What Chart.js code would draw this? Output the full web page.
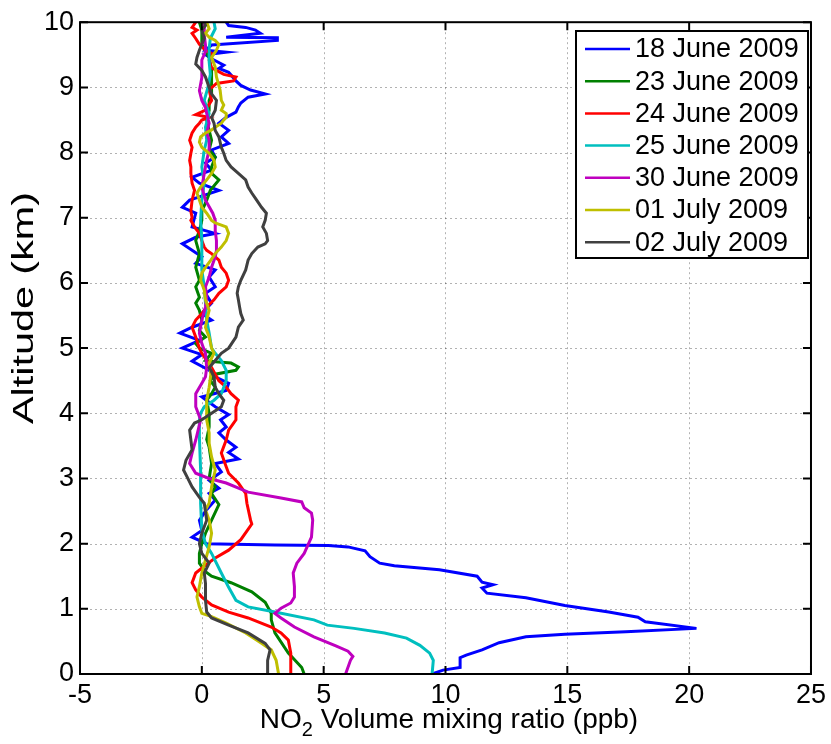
<!DOCTYPE html>
<html>
<head>
<meta charset="utf-8">
<script src="https://cdn.jsdelivr.net/npm/chart.js@4.4.1/dist/chart.umd.min.js"></script>
<style>
  html, body { margin: 0; padding: 0; background: #ffffff; }
  #wrap { width: 831px; height: 744px; }
</style>
</head>
<body>
<div id="wrap"><canvas id="c" width="831" height="744"></canvas></div>
<script>
// NO2 vertical profiles: each point is [mixing ratio (ppb), altitude (km)]
const seriesLabels = ['18 June 2009', '23 June 2009', '24 June 2009', '25 June 2009',
                      '30 June 2009', '01 July 2009', '02 July 2009'];
const seriesColors = ['#0000ff', '#008000', '#ff0000', '#00bfbf', '#bf00bf', '#bfbf00', '#404040'];

const jun18 = [[9.45,0],[9.9,0.06],[10.6,0.1],[10.6,0.25],[10.85,0.29],[11.5,0.37],[12.2,0.48],[13.3,0.57],
  [14.9,0.61],[17.4,0.65],[20.3,0.7],[18.2,0.8],[17.9,0.87],[16.7,0.95],[14.9,1.05],[13.3,1.17],[11.7,1.24],
  [11.5,1.32],[11.95,1.37],[11.5,1.41],[11.3,1.5],[9.75,1.6],[7.9,1.66],[7.3,1.7],[6.9,1.8],[6.7,1.89],
  [6.0,1.95],[5.2,1.97],[3.0,1.98],[0.2,2.0],[-0.4,2.1],[0,2.2],[-0.1,2.36],[0.15,2.5],[0.55,2.67],[0.3,2.77],
  [0.7,2.85],[0.3,2.97],[0.8,3.1],[0.55,3.23],[1.5,3.3],[1.1,3.4],[1.4,3.48],[1.0,3.59],[0.7,3.7],[1.0,3.79],
  [0.77,3.9],[1.1,3.98],[0.55,4.1],[0,4.25],[1.0,4.35],[1.1,4.46],[0.55,4.56],[0.3,4.66],[-0.4,4.8],[0,4.9],
  [-0.8,5.0],[-0.1,5.12],[-0.9,5.23],[-0.4,5.32],[0.4,5.43],[0,5.53],[0.4,5.69],[0.15,5.84],[0.55,5.94],
  [0.3,6.09],[0.55,6.2],[-0.25,6.3],[0,6.4],[-0.4,6.5],[-0.8,6.6],[-0.25,6.7],[0.55,6.76],[-0.4,6.86],
  [-0.25,7.07],[-0.8,7.16],[-0.5,7.27],[-0.1,7.32],[0.7,7.42],[-0.1,7.53],[-0.4,7.62],[0.4,7.73],[0.15,7.84],
  [0.55,7.93],[0.4,8.04],[1.1,8.14],[0.8,8.24],[1.1,8.34],[0.7,8.45],[1.0,8.54],[1.4,8.62],[1.5,8.7],
  [1.6,8.76],[1.9,8.85],[2.6,8.9],[2.0,8.96],[1.6,9.03],[1.4,9.1],[1.2,9.19],[1.1,9.23],[0.7,9.29],[0.9,9.34],
  [0.5,9.42],[0.15,9.5],[1.0,9.54],[0.15,9.57],[0.4,9.65],[3.1,9.72],[3.1,9.76],[1.0,9.77],[2.4,9.83],
  [2.2,9.88],[1.8,9.92],[1.1,9.95],[1.0,10.0]];

const jun23 = [[4.2,0],[4.1,0.1],[3.55,0.32],[3.0,0.63],[2.85,0.83],[2.85,0.93],[2.6,1.1],[2.05,1.26],[1.2,1.4],
  [0.4,1.5],[0.15,1.57],[-0.1,1.7],[-0.1,1.85],[0,2.0],[0.15,2.16],[0.4,2.36],[0.7,2.6],[0.4,2.77],[0.55,2.87],
  [0.3,3.0],[0.4,3.23],[0.3,3.48],[0.2,3.6],[0.3,3.79],[0.3,4.0],[0.2,4.2],[0.4,4.3],[0.55,4.4],[0.35,4.5],
  [0.55,4.6],[1.4,4.66],[1.5,4.71],[1.2,4.77],[0.55,4.79],[0.15,4.81],[0.4,4.92],[-0.1,5.0],[-0.25,5.07],
  [0.15,5.17],[-0.1,5.27],[0,5.43],[-0.1,5.58],[-0.25,5.69],[-0.1,5.78],[-0.25,5.94],[-0.1,6.04],[-0.25,6.24],
  [-0.1,6.45],[-0.25,6.65],[-0.1,6.8],[0,6.96],[0,7.1],[0.2,7.27],[0.35,7.42],[0.7,7.58],[0.4,7.68],[0.4,7.78],
  [0.55,7.93],[0.3,8.04],[0.4,8.19],[0.3,8.34],[0.2,8.5],[0.3,8.65],[0.3,8.8],[0.4,8.9],[0.4,9.26],[0.3,9.46],
  [0,9.66],[0,9.88],[-0.1,10.0]];

const jun24 = [[3.65,0],[3.65,0.32],[3.55,0.52],[3.25,0.63],[2.85,0.72],[1.9,0.86],[1.1,0.95],[0.4,1.06],[0,1.18],
  [-0.25,1.29],[-0.4,1.4],[-0.25,1.55],[0.15,1.67],[0.55,1.78],[1.1,1.9],[1.6,2.06],[2.05,2.3],[2.0,2.36],
  [1.85,2.62],[1.8,2.77],[1.5,2.93],[1.1,3.08],[1.0,3.18],[0.8,3.39],[1.0,3.59],[1.1,3.74],[1.4,3.9],[1.4,4.1],
  [1.5,4.2],[1.2,4.3],[1.0,4.4],[0.7,4.5],[0.55,4.6],[0.4,4.7],[0.2,4.81],[0,4.92],[-0.1,5.0],[-0.25,5.17],
  [-0.4,5.32],[-0.25,5.43],[0,5.53],[0.2,5.63],[0.5,5.74],[0.7,5.84],[1.0,5.94],[1.1,6.04],[1.0,6.15],[0.8,6.24],
  [0.7,6.35],[0.4,6.45],[0.2,6.5],[0.1,6.55],[0,6.65],[-0.1,6.76],[-0.3,6.86],[-0.45,6.96],[-0.4,7.0],
  [-0.45,7.1],[-0.4,7.27],[-0.3,7.42],[-0.4,7.53],[-0.45,7.68],[-0.45,7.78],[-0.5,7.88],[-0.45,7.99],
  [-0.4,8.08],[-0.5,8.19],[-0.4,8.3],[-0.25,8.39],[-0.1,8.45],[0,8.5],[0.3,8.54],[-0.25,8.58],[0.15,8.65],
  [0.4,8.8],[0.3,8.96],[0.6,9.06],[1.3,9.1],[1.4,9.16],[0.9,9.2],[0.6,9.26],[0.4,9.3],[0.3,9.42],[0.4,9.52],
  [0.15,9.57],[-0.1,9.66],[-0.25,9.75],[-0.4,9.83],[-0.2,9.88],[-0.4,9.92],[-0.25,10.0]];

const jun25 = [[9.45,0],[9.5,0.21],[9.35,0.32],[8.95,0.44],[8.4,0.55],[7.5,0.63],[6.25,0.7],[5.15,0.75],
  [4.6,0.83],[3.0,0.95],[1.9,1.03],[1.4,1.13],[1.1,1.33],[0.8,1.55],[0.4,1.85],[0.15,2.0],[0,2.2],
  [-0.05,2.62],[-0.05,3.13],[-0.1,3.63],[-0.1,3.9],[-0.05,4.0],[0.1,4.1],[0.5,4.2],[0.8,4.3],[0.9,4.4],
  [1.0,4.5],[1.0,4.66],[0.8,4.81],[0.55,4.92],[0.4,5.0],[0.3,5.23],[0.2,5.43],[0.15,5.69],[0.1,5.94],[0,6.2],
  [0,6.45],[0,6.65],[-0.05,6.96],[0,7.27],[0.1,7.53],[0,7.78],[0.1,8.04],[0.2,8.19],[0.15,8.39],[0.3,8.6],
  [0.1,8.8],[0.25,9.0],[0.35,9.2],[0.3,9.4],[0.3,9.6],[0.35,9.75],[0.55,9.9],[0.5,10.0]];

const jun30 = [[5.9,0],[6.1,0.21],[6.2,0.27],[6.0,0.35],[5.5,0.43],[4.6,0.57],[3.8,0.72],[3.25,0.86],[3.0,0.93],
  [3.25,1.01],[3.65,1.09],[3.8,1.18],[3.8,1.34],[3.75,1.55],[3.9,1.7],[4.2,1.85],[4.5,2.1],[4.55,2.36],
  [4.5,2.47],[4.2,2.55],[4.1,2.64],[3.25,2.7],[1.9,2.79],[1.0,2.93],[0.3,3.0],[-0.25,3.08],[-0.5,3.23],
  [-0.4,3.39],[-0.25,3.59],[-0.05,3.9],[-0.25,4.1],[-0.25,4.3],[0,4.46],[0.15,4.56],[0.2,4.7],[0.15,4.92],
  [0,5.07],[-0.1,5.23],[0,5.43],[0.15,5.63],[0.2,5.78],[0.15,5.94],[0.3,6.09],[0.4,6.24],[0.55,6.4],[0.6,6.5],
  [0.6,6.65],[0.55,6.8],[0.55,6.96],[0.45,7.07],[0.15,7.27],[0,7.47],[0.1,7.68],[0.15,7.78],[0.2,7.88],
  [0.3,8.04],[0.3,8.19],[0.2,8.3],[0.3,8.45],[0.2,8.6],[0.15,8.69],[0,8.8],[-0.1,8.95],[0,9.15],[0,9.42],
  [0.15,9.55],[0.15,9.65],[0.1,9.8],[0.1,10.0]];

const jul01 = [[3.15,0],[3.05,0.21],[2.85,0.37],[2.45,0.47],[1.8,0.63],[1.0,0.78],[0.4,0.88],[0,0.93],[-0.1,1.03],
  [-0.2,1.18],[-0.1,1.34],[0,1.55],[0.15,1.75],[0.3,1.95],[0.4,2.16],[0.3,2.36],[0.15,2.52],[0.3,2.62],
  [0.4,2.87],[0.55,3.13],[0.4,3.33],[0.3,3.54],[0.3,3.7],[0.2,3.9],[0.2,4.0],[0.2,4.2],[0.3,4.4],[0.37,4.6],
  [0.3,4.77],[0.5,4.92],[0.4,5.0],[0.3,5.17],[0.15,5.32],[0.2,5.43],[0.3,5.58],[0.15,5.74],[0.1,5.89],
  [-0.05,6.04],[0,6.15],[0.15,6.24],[0.37,6.35],[0.55,6.45],[0.8,6.55],[1.0,6.65],[1.1,6.76],[1.0,6.86],
  [0.55,6.92],[0.4,6.96],[0.2,7.07],[0,7.16],[-0.1,7.27],[-0.2,7.38],[-0.05,7.47],[0.2,7.58],[0.4,7.68],
  [0.55,7.78],[0.5,7.88],[0.3,7.99],[0,8.08],[-0.1,8.16],[-0.05,8.24],[0.15,8.3],[0.37,8.34],[0.55,8.39],
  [0.8,8.45],[0.9,8.5],[1.0,8.54],[1.0,8.6],[0.8,8.65],[0.9,8.73],[0.8,8.8],[0.75,8.96],[0.6,9.16],[0.55,9.31],
  [0.4,9.46],[0.6,9.57],[0.7,9.66],[0.55,9.72],[0.3,9.77],[0.15,9.83],[0.3,9.9],[0.2,10.0]];

const jul02 = [[2.7,0],[2.7,0.21],[2.8,0.37],[2.6,0.47],[1.9,0.63],[1.1,0.75],[0.4,0.86],[0.2,0.95],[0.15,1.13],
  [0.15,1.39],[0.1,1.55],[0.3,1.7],[0,1.85],[-0.1,2.0],[0,2.16],[0.2,2.36],[0.1,2.62],[-0.1,2.71],[-0.4,2.87],
  [-0.6,3.02],[-0.75,3.13],[-0.65,3.28],[-0.4,3.44],[-0.45,3.59],[-0.5,3.74],[-0.3,3.85],[0,3.9],[0.4,4.0],
  [0.8,4.1],[0.9,4.2],[0.7,4.3],[0.55,4.4],[0.5,4.56],[0.37,4.66],[0.3,4.7],[0.55,4.81],[0.8,4.92],[1.1,5.0],
  [1.4,5.17],[1.5,5.32],[1.7,5.43],[1.6,5.53],[1.55,5.63],[1.5,5.74],[1.45,5.84],[1.5,5.94],[1.6,6.04],
  [1.8,6.2],[1.9,6.35],[2.05,6.45],[2.3,6.55],[2.6,6.6],[2.7,6.65],[2.65,6.76],[2.5,6.86],[2.6,6.96],
  [2.65,7.07],[2.45,7.16],[2.25,7.27],[2.05,7.38],[1.9,7.47],[1.8,7.58],[1.5,7.68],[1.2,7.78],[1.0,7.88],
  [0.9,7.99],[0.8,8.08],[0.7,8.24],[0.55,8.34],[0.5,8.45],[0.4,8.54],[0.55,8.65],[0.6,8.8],[0.4,8.9],
  [0.3,9.0],[0.15,9.16],[0,9.26],[-0.25,9.36],[-0.2,9.46],[-0.1,9.57],[0,9.66],[0.1,9.75],[0,9.88],
  [0.15,9.95],[0.1,10.0]];

const profiles = [jun18, jun23, jun24, jun25, jun30, jul01, jul02];

const xTicks = [-5, 0, 5, 10, 15, 20, 25];
const yTicks = [0, 1, 2, 3, 4, 5, 6, 7, 8, 9, 10];
const xTitleMain = 'NO';
const xTitleSub = '2';
const xTitleRest = ' Volume mixing ratio (ppb)';
const yTitle = 'Altitude (km)';

const FONT = '"Liberation Sans", Arial, Helvetica, sans-serif';

// dotted grid under the curves
const gridPlugin = {
  id: 'dottedGrid',
  beforeDatasetsDraw(chart) {
    const { ctx, chartArea: a, scales: { x, y } } = chart;
    ctx.save();
    ctx.strokeStyle = 'rgba(0,0,0,0.3)';
    ctx.lineWidth = 1;
    ctx.setLineDash([2, 3]);
    xTicks.forEach(v => {
      const px = Math.round(x.getPixelForValue(v)) + 0.5;
      ctx.beginPath(); ctx.moveTo(px, a.top); ctx.lineTo(px, a.bottom); ctx.stroke();
    });
    yTicks.forEach(v => {
      const py = Math.round(y.getPixelForValue(v)) + 0.5;
      ctx.beginPath(); ctx.moveTo(a.left, py); ctx.lineTo(a.right, py); ctx.stroke();
    });
    ctx.restore();
  }
};

// axes box with inward tick marks on all four sides, then legend and titles
const framePlugin = {
  id: 'frame',
  afterDatasetsDraw(chart) {
    const { ctx, chartArea: a, scales: { x, y } } = chart;
    const t = 8;
    ctx.save();
    ctx.strokeStyle = '#000';
    ctx.lineWidth = 2;
    ctx.setLineDash([]);
    ctx.strokeRect(a.left, a.top, a.right - a.left, a.bottom - a.top);
    ctx.beginPath();
    xTicks.forEach(v => {
      const px = x.getPixelForValue(v);
      ctx.moveTo(px, a.bottom); ctx.lineTo(px, a.bottom - t);
      ctx.moveTo(px, a.top); ctx.lineTo(px, a.top + t);
    });
    yTicks.forEach(v => {
      const py = y.getPixelForValue(v);
      ctx.moveTo(a.left, py); ctx.lineTo(a.left + t, py);
      ctx.moveTo(a.right, py); ctx.lineTo(a.right - t, py);
    });
    ctx.stroke();
    ctx.restore();
  },
  afterDraw(chart) {
    const { ctx } = chart;
    ctx.save();
    // legend
    const bx = 576, by = 31, bw = 232, bh = 227, row = 32.2, fs = 27;
    ctx.fillStyle = '#fff';
    ctx.fillRect(bx, by, bw, bh);
    ctx.strokeStyle = '#000';
    ctx.lineWidth = 2;
    ctx.strokeRect(bx, by, bw, bh);
    ctx.font = `${fs}px ${FONT}`;
    ctx.textBaseline = 'middle';
    ctx.textAlign = 'left';
    seriesLabels.forEach((lab, i) => {
      const cy = by + 18 + i * row;
      ctx.strokeStyle = seriesColors[i];
      ctx.lineWidth = 2.5;
      ctx.beginPath(); ctx.moveTo(585, cy); ctx.lineTo(630, cy); ctx.stroke();
      ctx.fillStyle = '#000';
      ctx.fillText(lab, 635, cy + 1);
    });
    // x axis title with subscript
    const tf = 28;
    ctx.font = `${tf}px ${FONT}`;
    const wMain = ctx.measureText(xTitleMain).width;
    const wRest = ctx.measureText(xTitleRest).width;
    ctx.font = `${Math.round(tf * 0.7)}px ${FONT}`;
    const wSub = ctx.measureText(xTitleSub).width;
    const total = wMain + wSub + wRest;
    let sx = 449 - total / 2;
    const base = 728;
    ctx.textBaseline = 'alphabetic';
    ctx.fillStyle = '#000';
    ctx.font = `${tf}px ${FONT}`;
    ctx.fillText(xTitleMain, sx, base);
    sx += wMain;
    ctx.font = `${Math.round(tf * 0.7)}px ${FONT}`;
    ctx.fillText(xTitleSub, sx, base + 8);
    sx += wSub;
    ctx.font = `${tf}px ${FONT}`;
    ctx.fillText(xTitleRest, sx, base);
    // y axis title, drawn stretched along its length
    ctx.font = `29px ${FONT}`;
    const wy = ctx.measureText(yTitle).width;
    ctx.translate(25, 308);
    ctx.rotate(-Math.PI / 2);
    ctx.scale(232 / wy, 1);
    ctx.textAlign = 'center';
    ctx.textBaseline = 'middle';
    ctx.fillText(yTitle, 0, 0);
    ctx.restore();
  }
};

const datasets = profiles.map((pts, i) => ({
  label: seriesLabels[i],
  data: pts.map(p => ({ x: p[0], y: p[1] })),
  borderColor: seriesColors[i],
  backgroundColor: seriesColors[i],
  borderWidth: 3,
  pointRadius: 0,
  showLine: true,
  tension: 0,
  fill: false,
  order: profiles.length - i
}));

new Chart(document.getElementById('c'), {
  type: 'scatter',
  data: { datasets },
  options: {
    responsive: false,
    devicePixelRatio: 1,
    animation: false,
    layout: { padding: { left: 0, top: 22, right: 13, bottom: 0 } },
    plugins: { legend: { display: false }, tooltip: { enabled: false } },
    scales: {
      x: {
        type: 'linear', min: -5, max: 25,
        afterBuildTicks: s => { s.ticks = xTicks.map(v => ({ value: v })); },
        afterFit: s => { s.height = 70; },
        grid: { display: false, drawTicks: false },
        border: { display: false },
        ticks: { color: '#000', font: { family: FONT, size: 27 }, padding: 5, maxRotation: 0,
                 callback: v => String(v) }
      },
      y: {
        type: 'linear', min: 0, max: 10,
        afterBuildTicks: s => { s.ticks = yTicks.map(v => ({ value: v })); },
        afterFit: s => { s.width = 80; },
        grid: { display: false, drawTicks: false },
        border: { display: false },
        ticks: { color: '#000', font: { family: FONT, size: 27 }, padding: 6,
                 callback: v => String(v) }
      }
    }
  },
  plugins: [gridPlugin, framePlugin]
});
</script>
</body>
</html>
